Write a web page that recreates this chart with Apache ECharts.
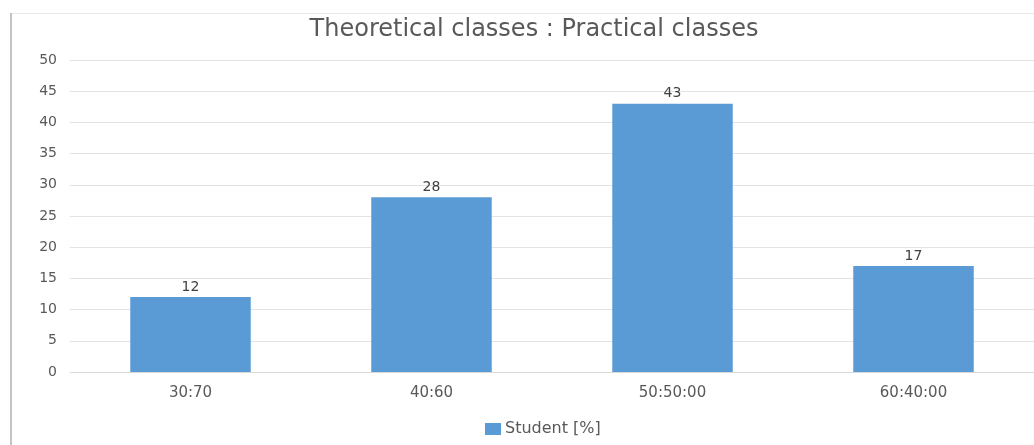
<!DOCTYPE html>
<html>
<head>
<meta charset="utf-8">
<script src="https://cdn.jsdelivr.net/npm/echarts@6/dist/echarts.min.js"></script>
<style>
  html, body { margin: 0; padding: 0; background: #ffffff; }
  #chart { width: 1034px; height: 445px; }
</style>
</head>
<body>
<div id="chart"></div>
<script>
// Ratio categories and share of students for each
const categories = ['30:70', '40:60', '50:50:00', '60:40:00'];
const studentPercent = [12, 28, 43, 17];
const seriesName = 'Student [%]';
const chartTitle = 'Theoretical classes : Practical classes';

const textColor = '#595959';
const fontFamily = '"DejaVu Sans", Verdana, sans-serif';

const chart = echarts.init(document.getElementById('chart'), null, { renderer: 'canvas' });

chart.setOption({
  animation: false,
  backgroundColor: '#ffffff',
  title: {
    text: chartTitle,
    left: 534,
    textAlign: 'center',
    top: 18,
    padding: 0,
    textStyle: {
      color: textColor,
      fontFamily: fontFamily,
      fontSize: 24,
      fontWeight: 'normal'
    }
  },
  legend: {
    data: [seriesName],
    left: 485,
    top: 421,
    padding: 0,
    itemWidth: 16,
    itemHeight: 12,
    itemGap: 6,
    icon: 'rect',
    textStyle: {
      color: textColor,
      fontFamily: fontFamily,
      fontSize: 16,
      padding: [2, 0, 0, -1]
    }
  },
  graphic: [
    {
      type: 'line',
      shape: { x1: 11, y1: 13, x2: 11, y2: 445 },
      style: { stroke: '#c4c4c4', lineWidth: 2 },
      silent: true
    },
    {
      type: 'line',
      shape: { x1: 12, y1: 13.5, x2: 1034, y2: 13.5 },
      style: { stroke: '#e8e8e8', lineWidth: 1 },
      silent: true
    }
  ],
  grid: {
    left: 70,
    right: 0,
    top: 60,
    bottom: 73,
    containLabel: false
  },
  xAxis: {
    type: 'category',
    data: categories,
    axisLine: { lineStyle: { color: '#d9d9d9', width: 1 } },
    axisTick: { show: false },
    axisLabel: {
      color: textColor,
      fontFamily: fontFamily,
      fontSize: 15,
      margin: 14
    }
  },
  yAxis: {
    type: 'value',
    min: 0,
    max: 50,
    interval: 5,
    axisLine: { show: false },
    axisTick: { show: false },
    axisLabel: {
      color: textColor,
      fontFamily: fontFamily,
      fontSize: 14,
      margin: 13
    },
    splitLine: { lineStyle: { color: '#e3e3e3', width: 1 } }
  },
  series: [
    {
      name: seriesName,
      type: 'bar',
      data: studentPercent,
      barWidth: '50%',
      itemStyle: { color: '#5b9bd5' },
      label: {
        show: true,
        position: 'top',
        distance: 3,
        color: '#404040',
        fontFamily: fontFamily,
        fontSize: 14
      }
    }
  ]
});
</script>
</body>
</html>
